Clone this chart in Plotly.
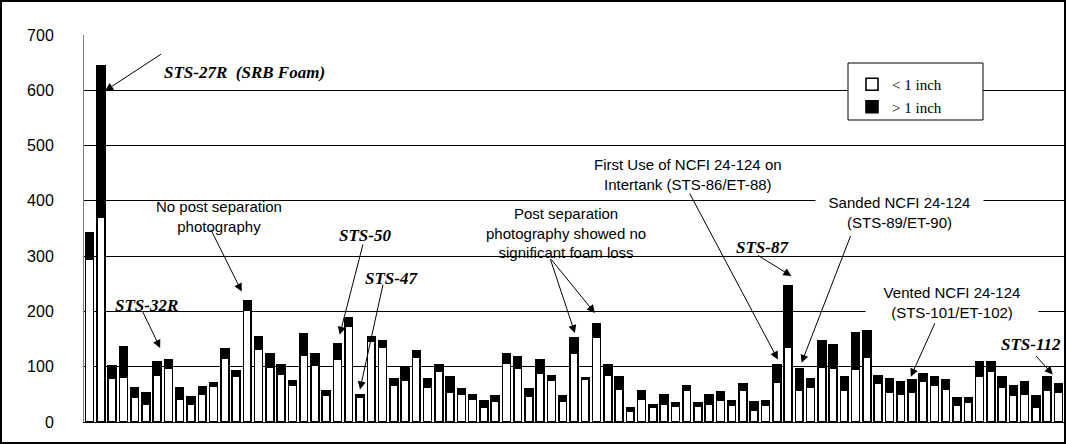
import plotly.graph_objects as go

# ---------------- data ----------------
flights = list(range(1, 88))
under_1in = [295, 370, 80, 81, 44, 33, 84, 98, 42, 33, 51, 64, 116, 83, 203, 132, 99, 86, 67, 121,
             103, 48, 113, 174, 44, 147, 135, 66, 76, 118, 63, 91, 54, 51, 41, 27, 37, 106, 97, 47,
             88, 76, 37, 125, 77, 154, 84, 59, 19, 41, 27, 33, 28, 57, 28, 33, 39, 30, 57, 22,
             30, 72, 135, 57, 63, 100, 98, 57, 96, 118, 70, 54, 51, 54, 73, 67, 60, 31, 36, 82,
             91, 63, 48, 51, 26, 57, 54]
over_1in = [48, 275, 21, 55, 17, 19, 24, 14, 19, 13, 13, 7, 17, 10, 16, 23, 25, 17, 8, 39,
            21, 8, 29, 14, 6, 8, 11, 13, 22, 11, 16, 12, 27, 9, 9, 11, 10, 17, 21, 13,
            24, 8, 10, 28, 3, 23, 20, 22, 6, 16, 4, 17, 7, 8, 7, 17, 15, 8, 12, 14,
            8, 31, 111, 40, 16, 47, 42, 24, 66, 47, 14, 25, 22, 22, 15, 14, 16, 13, 8, 26,
            17, 18, 17, 21, 21, 24, 15]
series_names = ["< 1 inch", "> 1 inch"]
y_ticks = [0, 100, 200, 300, 400, 500, 600, 700]

# text labels: (text, x, y, style, anchor, box width)
labels = [
    ("STS-27R  (SRB Foam)", 7.43, 633, "bi", "left", None),
    ("STS-32R", 6.05, 210, "bi", "center", None),
    ("No post separation<br>photography", 12.49, 372, "r", "center", None),
    ("STS-50", 25.45, 338, "bi", "center", None),
    ("STS-47", 27.76, 260, "bi", "center", None),
    ("Post separation<br>photography showed no<br>significant foam loss", 43.25, 341, "r", "center", None),
    ("First Use of NCFI 24-124 on<br>Intertank (STS-86/ET-88)", 54.12, 447, "r", "center", None),
    ("STS-87", 60.69, 315, "bi", "center", None),
    ("Sanded NCFI 24-124<br>(STS-89/ET-90)", 72.86, 379, "r", "center", 165),
    ("Vented NCFI 24-124<br>(STS-101/ET-102)", 77.57, 216, "r", "center", 170),
    ("STS-112", 87.45, 141, "bi", "right", None),
]
# arrows: (tail x, tail y, head x, head y)
arrows = [
    (7.46, 667, 2.38, 599),
    (5.63, 203, 7.26, 134),
    (11.69, 351, 14.5, 236),
    (25.3, 324, 23.2, 158),
    (27.07, 251, 25.0, 59),
    (41.86, 297, 44.08, 161),
    (41.86, 297, 45.85, 197),
    (54.2, 416, 62.1, 113),
    (60.2, 303, 63.3, 264),
    (68.6, 339, 64.2, 107),
    (76.1, 181.5, 73.9, 82),
    (84.9, 122, 86.5, 86),
]

# ---------------- layout geometry ----------------
W, H = 1066, 444
L, R, T, B = 84, 2, 35, 22
pw, ph = W - L - R, H - T - B


def paper_x(px):
    return (px - L) / pw


def paper_y(py):
    return (H - B - py) / ph


fig = go.Figure()
fig.add_bar(x=flights, y=under_1in, name=series_names[0],
            marker=dict(color="white", line=dict(color="black", width=1.6)))
fig.add_bar(x=flights, y=over_1in, name=series_names[1],
            marker=dict(color="black", line=dict(color="black", width=1.6)))

annotations = []
for text, x, y, style, anchor, width in labels:
    if style == "bi":
        font = dict(family="Liberation Serif, Times New Roman, serif", size=17,
                    color="black", weight="bold", style="italic")
    else:
        font = dict(family="Liberation Sans, Arial, sans-serif", size=15, color="black")
    a = dict(text=text, x=x, y=y, xref="x", yref="y", showarrow=False,
             xanchor=anchor, yanchor="middle", font=font, align="center")
    if width:
        a.update(width=width, bgcolor="white")
    annotations.append(a)
for tx, ty, hx, hy in arrows:
    annotations.append(dict(text="", x=hx, y=hy, ax=tx, ay=ty, xref="x", yref="y",
                            axref="x", ayref="y", showarrow=True, arrowhead=2,
                            arrowsize=1.6, arrowwidth=1, arrowcolor="black", standoff=0))

shapes = [
    # outer chart frame
    dict(type="rect", xref="paper", yref="paper",
         x0=paper_x(1), x1=paper_x(1065), y0=paper_y(443), y1=paper_y(1),
         line=dict(color="black", width=2), fillcolor="rgba(0,0,0,0)", layer="above"),
    # legend box
    dict(type="rect", xref="paper", yref="paper",
         x0=paper_x(848), x1=paper_x(983), y0=paper_y(120), y1=paper_y(63),
         line=dict(color="black", width=1), fillcolor="white", layer="above"),
]

fig.update_layout(
    width=W, height=H,
    margin=dict(l=L, r=R, t=T, b=B, pad=0),
    paper_bgcolor="white", plot_bgcolor="white",
    barmode="stack", bargap=0.3,
    showlegend=True,
    legend=dict(x=paper_x(852), y=paper_y(68), xanchor="left", yanchor="top",
                bgcolor="rgba(0,0,0,0)", borderwidth=0, traceorder="normal",
                font=dict(family="Liberation Serif, Times New Roman, serif", size=15, color="black")),
    annotations=annotations,
    shapes=shapes,
    xaxis=dict(range=[0.5, 87.5], showticklabels=False, ticks="", showgrid=False,
               zeroline=False, showline=True, linecolor="black", linewidth=1),
    yaxis=dict(range=[0, 700], tickvals=y_ticks, ticktext=[str(v) for v in y_ticks],
               showgrid=True, gridcolor="black", gridwidth=1, zeroline=False,
               showline=True, linecolor="#808080", linewidth=1, ticks="",
               ticklabelstandoff=26,
               tickfont=dict(family="Liberation Sans, Arial, sans-serif", size=16, color="black")),
)

fig.write_html("out.html", config={"displayModeBar": False},
               post_script="document.body.style.margin='0';")
